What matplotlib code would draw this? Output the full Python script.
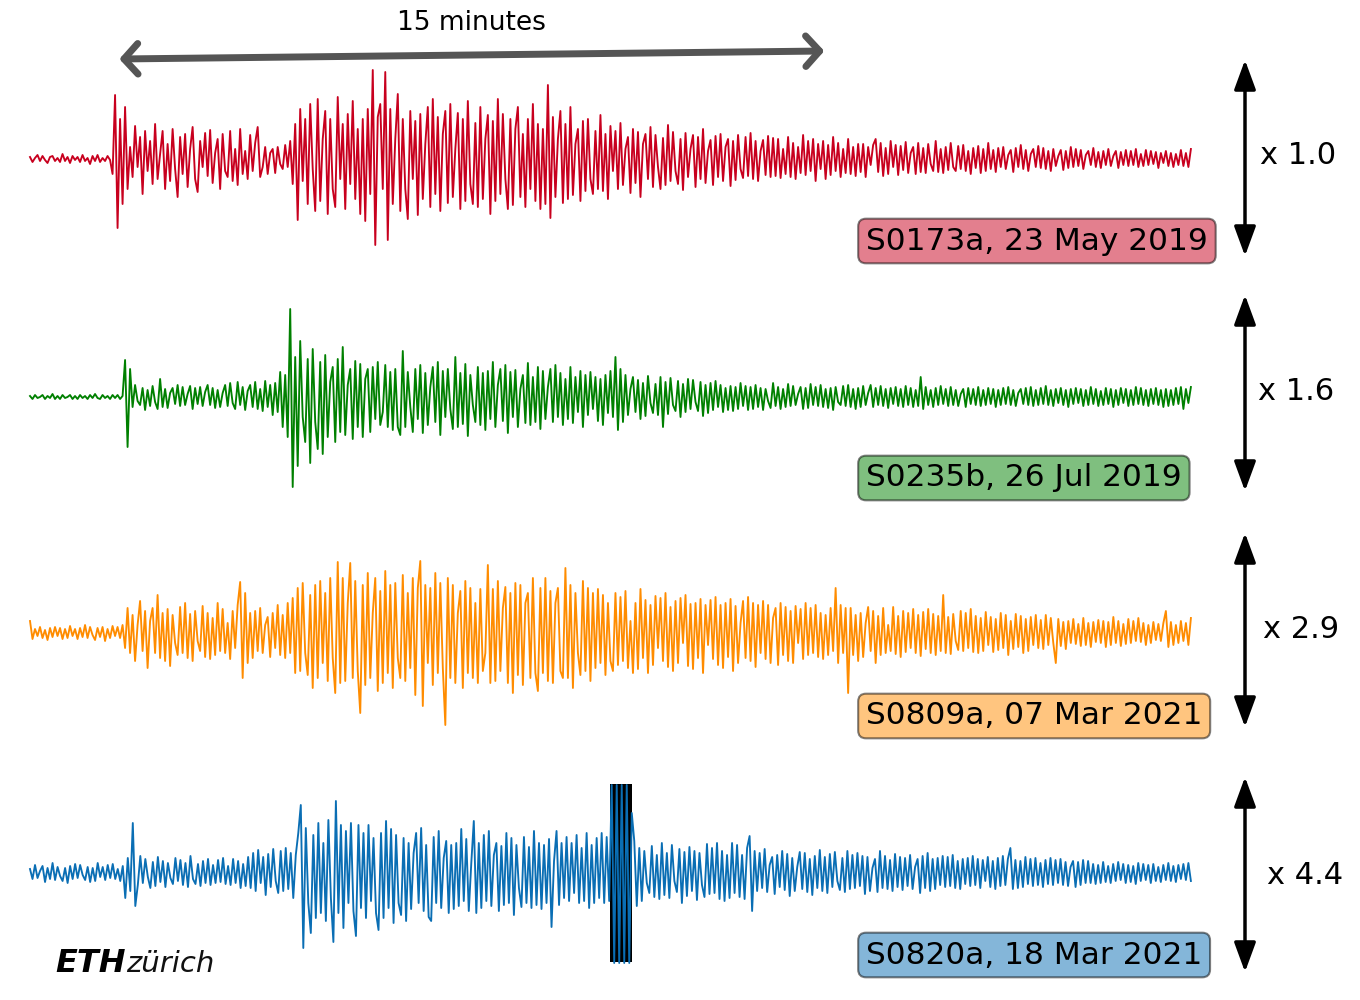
import numpy as np
import matplotlib
matplotlib.use('Agg')
import matplotlib.pyplot as plt

# Event names / dates and the amplitude scale factor shown on the right
labels = ['S0173a, 23 May 2019', 'S0235b, 26 Jul 2019',
          'S0809a, 07 Mar 2021', 'S0820a, 18 Mar 2021']
scales = ['x 1.0', 'x 1.6', 'x 2.9', 'x 4.4']
colors = ['#c8001e', '#008000', '#ff8c00', '#0a6eb4']

# Trace length in minutes, scale bar length in minutes
duration = 24.7
bar_start = 1.9
bar_len = 15

# Normalised waveforms (samples, evenly spaced in time)
s0173a = [
    2, -3, 1, 4, -2, 3, -1, -4, 2, 3, -2, 1, -3, 5, -2, 2, -4, 3, -1, 2,
    -3, 4, -2, 1, -5, 3, -2, 4, -3, 1, -2, 3, -1,
    -15, 64, -69, 40, -45, 52,
    -30, 12, -18, 33, -8, 22, -35, 28, -12, 18, -25, 35, -20, 5, 28, -30, 15, -22, 30, -10,
    -38, 22, -15, 25, -28, 10, 32, -20, -33, 18, -8, 26, -17, 29, -24, 6, 20, -30, 25, -12,
    -18, 28, -22, 10, -26, 30, -15, 8, -20, 24, -12, 16,
    32, -18, -8, 12, -15, 6, 10, -14, 12, -5, -10, 14, -8, 18,
    -25, 35, -61, 50, -22, 40, -45, 55, -10, -52, 60, -42, 20, 48, -55, 40, -30, -48, 62, -20,
    35, -50, 45, -25, 58, -40, 30, -55, 40, -62, 50, -35, 89, -86, 42, 55, -30, 87, -81, 50,
    -45, 20, 65, -52, 40, -30, -60, 48, -20, 38, -56, 45, -40, 15, 52, -48, 60, -35, 42, -52,
    25, 48, -44, 55, -38, 10, 46, -50, 40, -42, 58, -25, -45, 36, -48, 52, -40, 20, 44, -55,
    38, -42, 60, -35, 45, -20, -50, 40, -46, 30, 52, -38, 25, -48, 40, -30, 55, -42, 35, -50,
    30, -45, 74, -59, 42, -38, 20, 48, -44, 35, -40, 52, -36, 15, 30, -42, 38, -32, 40, -20,
    -35, 28, -30, 44,
    -32, 25, -40, 33, -12, 28, -30, 36, -26, 10, 22, -34, 30, -24, 27, -38, 15, 25, -20, 32,
    -28, 24, -8, -30, 21, -26, 34, -22, 27, -12, -25, 20, -31, 26, -18, 10, 24, -28, 22, -20,
    30, -24, 8, 19, -26, 23, -18, 25, -22, 12, 20, -27, 18, -21, 24, -10, -19, 22, -17, 26,
    -20, 18, -22, 8, 19, -16, 23, -18, 21, -17, 20, -19, 10, -15, 22, -18, 16, -20, 12, -14,
    24, -16, 18, -12, 20, -22, 15, -10, 18, -20, 14, -16, 22, -12, 16, -18, 10, -14, 20, -15,
    12, -17, 15, -13,
    15, -18, 12, -6, 14, 20, -13, 16, -17, 11, -15, 18, -8, 14, -16, 13, -11, 17, -14, 6,
    12, -15, 16, -13, 11, -14, 15, -5, -12, 18, -13, 10, -14, 12, -11, 16, -8, -12, 13, -10,
    14, -12, 8, -15, 11, -9, 13, -14, 10, -12, 16, -10, 9, -13, 11, -8,
    12, -10, 4, 9, -13, 11, -8, 14, -10, 9, -12, 5, 10, -8, 13, -9, 11, -10, 8, -12,
    10, -7, 3, 9, -11, 8, -9, 12, -8, 10, -7, 9, -10, 4, 8, -6, 11, -8, 7, -9,
    8, -6, 10, -7, 3, 8, -9, 7, -6, 9, -7, 8, -6, 10, -8, 5, -7, 9, -6, 8,
    -5, 7, -9, 6, -4, 8, -7, 6, -8, 5, -6, 9, -7, 6, -8, 10,
]
s0235b = [
    1, -2, 2, -1, 0, 2, -2, 1, -1, 3, -2, 1, -2, 2, -1, 0, 2, -2, 1, -2,
    2, -1, 1, -2, 2, -1, 3, -1, -2, 2, -1, 1, -2, 2, -1, 2, -2, 1,
    37, -50, 28,
    -10, 12, -4, -8, 9, -13, 7, -9, 11, -5, -12, 18, -10, 8, -11, 4, 9, -7, 12, -9,
    10, -8, 3, 11, -12, 9, -7, 10, -9, 5, 12, -8, 9, -11, 7, -10, 4, 12, -9, 14,
    -6, -12, 15, -8, 10, -13, 6, 12, -10, 15, -12, 8, -14, 16, -10, 12, -18, 14, -15,
    25, -30, 22, -40,
    88, -90,
    40, -69, 56, -20, -45, 38, -66, 48, -25, -52, 35, -57, 42, -40, 15, 30, -45, 38, -35, 50,
    -38, 12, 28, -42, 36, -30, 33, -40, 18, 28, -35, 30, -22, 35, -28, -15, 32, -30, 25, -33,
    28, -30,
    -38, 46, -30, 25, -10, -35, 28, -22, 32, -36, 24, -28, 10, 30, -25, 35, -38, 26, -20, 28,
    -12, -32, 40, -30, 24, -27, 33, -39, 22, -8, -25, 30, -28, 24, -33, 26, -22, 35, -30, 12,
    28, -24, 32, -36, 25, -20, 27, -30, 8, 22, -26, 34, -28, 20, -25, 30, -32, 26, -22, 10,
    28, -25, 32, -20, 24, -28, 18, -22, 30, -26, 20, -15, 26, -30, 22, -18, 25, -12, 20, -24,
    18, -28, 22, -16, 26, -20,
    40, -33, 28, -25, 22, -18, 8, 20, -15, 17, -22, 14, -19, 21, -6, -16, 13, -18, 20, -30,
    15, -17, 19, -8, -14, 16, -20, 13, -15, 18, -12, 17, -5, -14, 15, -19, 12, -16, 14, -13,
    16, -10, 12, -15, 9, -13, 11, -14, 10, -12, 14, -9, 11, -13, 10, -12,
    12, -10, 9, -13, 8, -4, -11, 14, -9, 10, -12, 8, -10, 13, -9, 11, -8, 3, 10, -12,
    9, -11, 13, -8, 10, -9, 12, -10, 8, -11, 9, -13, 10, -5, -8, 11, -9, 12, -10, 8,
    -12, 9, -10, 11, -8, 4, 12, -10, 9, -8, 11, -9, 8, -11, 9, -7, 10, -9, 8, -10,
    11, -8, 9, -10, 7, -9, 20, -12, 10, -8, 7, -10, 9, -8, 11, -7, 8, -9, 10, -8,
    7, -9, 3, 8, -10, 9, -7, 8, -8, 10, -9, 7, -8, 9, -7, 8, -10, 7, -8, 9,
    -7, 10, -8, 7, -9, 4, 8, -7, 9, -8, 10, -9, 7, -8, 9, -7, 11, -8, 7, -9,
    8, -6, 9, -8, 7, -10, 8, -7, 9, -6, 8, -9, 7, -8, 10, -7, 8, -9, 6, -8,
    9, -7, 8, -10, 7, -8, 9, -6, 8, -9, 7, -8, 10, -7, 9, -8, 7, -9, 8, -7,
    9, -8, 7, -10, 8, -9, 7, -8, 9, -7, 10, -12, 8, -6, 10,
]
s0809a = [
    12, -6, 4, -3, 6, -5, 3, -7, 5, -4, 6, -3, 5, -6, 4, -5, 7, -3, 4, -6,
    5, -4, 8, -5, 6, -2, -7, 5, -4, 6, -8, 4, -5, 7, -3, 6, -5, 8,
    -15, 25, -20, 18, -28, 8, 32, -18, 22, -35, 12, 25, -20, 38, -25, 20, -28, 24, -33, 18,
    -10, -22, 26, -20, 30, -25, 19, -28, 22, -8, -18, 27, -24, 20, -26, 15, -22, 30, -18, 24,
    -20, 10, -26, 22, -15, 28,
    51, -45, 40, -30, 20, -25,
    22, -18, 25, -20, 8, 16, -24, 20, -15, 28, -22, 18, -25, 30, -20,
    35, -40, 45, -38, 50, -20, -42, 38, -55, 48, -45, 52, -30, 40, -48, 55, -25, -60, 71, -50,
    55, -48, 30, 70, -45, 52, -38, -80, 48, -52, 60, -45, 20, 55, -58, 42, -50, 62, -40, 48,
    -55, 50, -25, -45, 58, -48, 40, -35, 55, -62, 45, 72, -73, 48, -30, 45, -52, 60, -40, 50,
    -35, -92, 55, -45, 48, -50, 20, 42, -55, 52, -40, 45, -45, 30, -50, 44, -38, -20, 68, -50,
    44, -48, 52, -38, 25, 46, -50, 40, -60, 50, -42, 48, -52, 30, 40, -45, 55, -40, -58, 45,
    -40, 55, -48, 42, -50, 30, 45, -38, -45, 65, -45, 48, -55, 40, -20, -42, 52, -38, 45, -48,
    40, -35, 44, -30, 38, -42, 30, -28,
    -38, 40, -32, 36, -28, 42, -35, 12, -40, 30, -36, 44, -25, 33, -40, 28, -32, 37, -15, 35,
    -28, 40, -34, 26, -38, 32, -30, 35, -10, 38, -33, 29, -36, 30, -25, 34, -40, 28, -12, 33,
    -26, 36, -32, 28, -35, 30, -24, 34, -38, 27, -30, 10, 32, -25, 36, -28, 30, -34, 28, -20,
    32, -26, 28, -30, 15, 25, -32, 30, -22, 26, -28, 22, -30, 27, -10, 24, -26, 30, -22, 25,
    -20, 28, -24, 20, -26, 18, -22, 25, -18, 45, -30, 28, -20, 25, -60,
    25, -22, 18, -28, 20, -24, 10, 26, -18, 22, -30, 17, -22, 25, -20, 8, -18, 26, -21, 17,
    -24, 22, -19, 20, -15, 24, -20, 18, -23, 21, -16, 24, -20, 19, -22, 17, -18, 38, -20, 16,
    -21, 19, -8, -17, 22, -18, 20, -15, 24, -19, 17, -20, 15, -18, 21, -12, 16, -19, 14, -17,
    20, -15, 18, -22, 12, -16, 19, -14, 17, -20, 14, -18, 16, -12, 18, -15, 13, -16,
    18, -12, 15, -10, -30, 14, -13, 11, -16, 12, -10, 14, -11, 9, -13, 15, -12, 10, -14, 11,
    -9, 13, -10, 12, -14, 11, -12, 16, -10, 12, -13, 9, -11, 14, -10, 12, -8, 15, -9, 10,
    -12, 8, -10, 11, -7, 9, -8, 10, 22, -14, 11, -12, 8, -10, 12, -8, 10, -12, 15,
]
s0820a = [
    4, -6, 8, -5, 2, 7, -9, 5, -6, 10, -7, 6, -3, -8, 5, -10, 7, -6, 9, -5,
    8, -2, -7, 6, -9, 5, -8, 10, -4, 6, -7, 8, -5, 9, -6, 4, -8, 7,
    -25, 15, -18, 50, -33,
    -12, 17, -10, 14, -4, -15, 11, -13, 16, -9, 12, -14, 10, -5, -11, 15, -8, 13, -12, 10,
    -14, 17, -6, -11, 9, -13, 12, -10, 14, -12, 8, -10, 13, -9, 15, -11, 7, -12, 14, -10,
    12, -15, 9, -13, 16,
    -15, 20, -18, 23, -10, 16, -22, 19, -14, 24, -8, -20, 22, -18, 25, -16, 20, -25, 18,
    40, 68, -75, 45, -30, -60, 38, -45, 50, -40, 30, -48, 53, -25, -69, 72, -40, 48, -55, 42,
    -30, 50, -38, -63, 48, -35, 40, -45, 48, -28, 35, -40, -57, 40, -45, 52, -35, 44, -50, 38,
    -30,
    -42, 35, -48, 30, -36, 20, 40, -30, 45, -38, 28, -44, -48, 36, -30, 42, -35, 15, 32, -40,
    28, -36, 30, -33, 44, -28, 34, -38, 10, 52, -40, 30, -35, 38, -28, 42, -33, 18, 30, -38,
    27, -32, 40, -30, 35, -42, 28, -15, -34, 36, -30, 26, -35, 42, -32, 30, -36, 28, -30, 34,
    -54, 12, 42, -32, 30, -25, 36, -28, 30, -20, 38, -30, 25, -28, 40, -35, 28, -30, 35, -25,
    40, -30, 36, -28,
    88, -90, 88, -90, 88, -90, 88, -90, 60,
    32, -33, 25, -28, 22, -10, -20, 27, -24, 18, -26, 30, -22, 20, -25, 28, -8, -19, 24, -30,
    21, -23, 26, -18, 22, -27, 20, -12, -24, 29, -21, 25, -20, 30, -26, 22, -28, 18, -25, 30,
    -20, 28, -24, 18, -26, 25, 37, -38,
    22, -18, 20, -15, 24, -19, 8, 16, -21, 18, -14, 22, -17, 19, -23, 15, -18, 6, 21, -16,
    20, -19, 14, -22, 17, -15, 23, -18, 16, -20, 19, -14, 21, -8, -17, 15, -19, 22, -16, 18,
    -15, 20, -13, 17, -21, 16, -18, 5, 14, -19, 22, -15, 17, -16, 13, -18, 19, -14, 16, -17,
    15, -13, 18, -16, 6, 14, -20, 17, -15, 20, -18, 14, -16, 15, -12, 17, -14, 16, -13, 18,
    -15, 12, -16, 14, -11, 15, -13, 17, -12, 14, -15, 13, -8, 16, -14, 12, -16, 15, -13, 17,
    -12, 14, 25, -16, 13, -15, 12, -14, 16, -11, 14, -13, 15, -12, 10, -14, 13, -11, 15, -12,
    13, -10, 14, -12, 11, -13, 6, 12, -14, 11, -12, 13, -10,
    12, -10, 9, -11, 8, -10, 11, -9, 7, -10, 9, -8, 11, -7, 9, -10, 8, -9, 7, -11,
    10, -8, 9, -7, 8, -10, 9, -8, 6, -9, 8, -7, 10, -8, 7, -9, 8, -6, 9, -7,
    10, -8,
]
traces = [s0173a, s0235b, s0809a, s0820a]

# Saturated (clipped) stretch in the last record, minutes
glitch = [12.34, 12.81]
glitch_amp = 89

# ---- layout (pixel positions in the 1360x1000 canvas) ----
W, H = 1360, 1000
centers = [159, 397, 633, 873]
box_y = [241, 478, 716, 955]
arrow_y = [(60, 256), (295, 491), (533, 727), (777, 972)]
scale_pos = [(1260, 155), (1258, 391), (1263, 629), (1267, 875)]
px_per_min = 47.0
x0 = 30

fig = plt.figure(figsize=(W / 100, H / 100), dpi=100)
ax = fig.add_axes([0, 0, 1, 1])
ax.set_xlim(-x0 / px_per_min, (W - x0) / px_per_min)
ax.set_ylim(-H, 0)
ax.axis('off')

for i, vals in enumerate(traces):
    vals = np.array(vals, dtype=float)
    t = np.linspace(0, duration, len(vals))
    if i == 3:
        ax.fill_between(glitch, -centers[i] - glitch_amp, -centers[i] + glitch_amp,
                        color='black', lw=0, zorder=1)
    ax.plot(t, -centers[i] + vals, color=colors[i], lw=1.35, zorder=2)

    # event label box
    ax.annotate(labels[i], xy=(866, H - box_y[i]), xycoords='figure pixels',
                fontsize=22.5, va='center', ha='left',
                bbox=dict(boxstyle='round,pad=0.25', fc=colors[i], ec='black',
                          lw=1.5, alpha=0.5))
    # amplitude arrow and scale factor
    ya, yb = arrow_y[i]
    ax.annotate('', xy=(1245, H - yb), xytext=(1245, H - ya),
                xycoords='figure pixels', textcoords='figure pixels',
                arrowprops=dict(arrowstyle='<|-|>,head_length=0.9,head_width=0.33',
                                mutation_scale=20, color='black', lw=2.5,
                                shrinkA=0, shrinkB=0))
    ax.annotate(scales[i], xy=(scale_pos[i][0], H - scale_pos[i][1]),
                xycoords='figure pixels', fontsize=22, va='center', ha='left')

# 15 minute scale bar
xa = x0 + bar_start * px_per_min
xb = x0 + (bar_start + bar_len) * px_per_min
ax.annotate('', xy=(xb, H - 51), xytext=(xa, H - 59),
            xycoords='figure pixels', textcoords='figure pixels',
            arrowprops=dict(arrowstyle='<->,head_length=0.5,head_width=0.55',
                            mutation_scale=20, color='#555555', lw=5,
                            capstyle='round', joinstyle='round',
                            shrinkA=0, shrinkB=0))
ax.annotate(f'{bar_len} minutes', xy=((xa + xb) / 2, H - 23), xycoords='figure pixels',
            fontsize=19, ha='center', va='center')

# logo text
ax.annotate('ETH', xy=(55, H - 972), xycoords='figure pixels', fontsize=23,
            fontweight='heavy', style='italic', va='baseline', ha='left')
ax.annotate('zürich', xy=(126, H - 972), xycoords='figure pixels', fontsize=21,
            style='italic', va='baseline', ha='left', color='#111111')

fig.savefig('out.png', dpi=100)
